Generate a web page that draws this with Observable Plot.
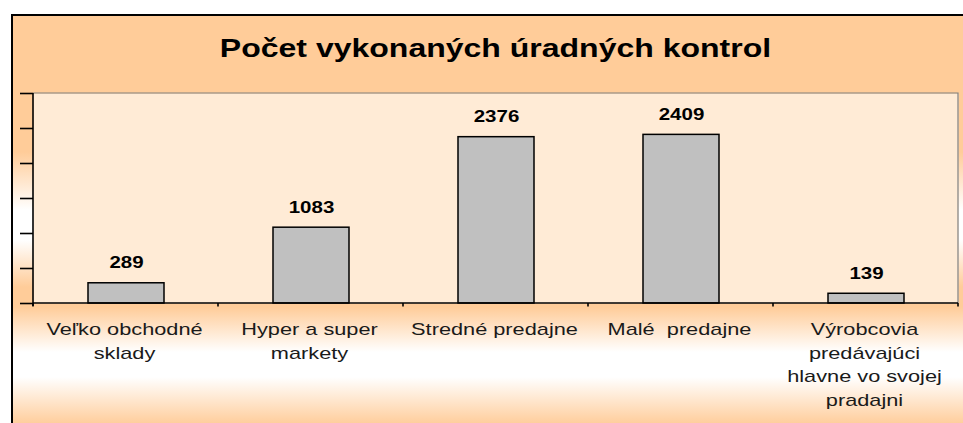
<!DOCTYPE html>
<html>
<head>
<meta charset="utf-8">
<script src="https://cdn.jsdelivr.net/npm/d3@7"></script>
<script src="https://cdn.jsdelivr.net/npm/@observablehq/plot@0.6"></script>
<style>
html, body { margin: 0; padding: 0; width: 963px; height: 423px; overflow: hidden; background: #fff; }
#bg {
  position: absolute; left: 11px; top: 14px; width: 960px; height: 420px;
  border-left: 2px solid #000; border-top: 2px solid #000;
  background: linear-gradient(to bottom,
    #FFCC99 0px, #FFCC99 136px, #FFFFFF 194px, #FFFFFF 224px,
    #FFCC99 271px, #FFCC99 291px, #FFFFFF 336px, #FFFFFF 361px, #FFCC99 409px);
}
#title {
  position: absolute; left: 33px; width: 925px; top: 34px; line-height: 25px;
  text-align: center; font: bold 25px "Liberation Sans", Arial, sans-serif; color: #000;
  transform: scaleX(1.28); white-space: nowrap;
}
#chart { position: absolute; left: 0; top: 0; }
</style>
</head>
<body>
<div id="bg"></div>
<div id="title">Počet vykonaných úradných kontrol</div>
<div id="chart"></div>
<script>
const categories = [
  "Veľko obchodné sklady",
  "Hyper a super markety",
  "Stredné predajne",
  "Malé  predajne",
  "Výrobcovia predávajúci hlavne vo svojej pradajni"
];
const values = [289, 1083, 2376, 2409, 139];
const tickLabels = [
  "Veľko obchodné\nsklady",
  "Hyper a super\nmarkety",
  "Stredné predajne",
  "Malé  predajne",
  "Výrobcovia\npredávajúci\nhlavne vo svojej\npradajni"
];
const yTicks = [0, 500, 1000, 1500, 2000, 2500, 3000];

const data = categories.map((c, i) => ({category: c, value: values[i]}));

const axisLines = (index, scales, values, dim) => {
  const {width, height, marginLeft: ml, marginRight: mr, marginTop: mt, marginBottom: mb} = dim;
  const g = d3.create("svg:g");
  const x0 = ml, x1 = width - mr, y0 = mt, y1 = height - mb;
  g.append("path").attr("d", `M${x0},${y0}H${x1}V${y1}`).attr("fill", "none").attr("stroke", "#808080").attr("stroke-width", 1.2);
  g.append("line").attr("x1", x0).attr("x2", x0).attr("y1", y0).attr("y2", y1 + 3).attr("stroke", "#000").attr("stroke-width", 1.6);
  g.append("line").attr("x1", x0).attr("x2", x1).attr("y1", y1).attr("y2", y1).attr("stroke", "#000").attr("stroke-width", 1.6);
  const xb = d3.scaleBand(categories, [x0, x1]);
  const bounds = categories.map(c => xb(c)).concat([x1]);
  for (const b of bounds) {
    g.append("line").attr("x1", b).attr("x2", b).attr("y1", y1).attr("y2", y1 + 3.5).attr("stroke", "#000").attr("stroke-width", 1.6);
  }
  return g.node();
};

const plot = Plot.plot({
  width: 963,
  height: 423,
  marginLeft: 33,
  marginRight: 5,
  marginTop: 93,
  marginBottom: 120,
  style: {background: "transparent", fontFamily: "'Liberation Sans', Arial, sans-serif", overflow: "visible"},
  x: {domain: categories, paddingInner: 0.59, paddingOuter: 0.295, label: null},
  y: {domain: [0, 3000], label: null},
  marks: [
    Plot.frame({fill: "url(#dots)", stroke: null}),
    Plot.barY(data, {x: "category", y: "value", fill: "#C0C0C0", stroke: "#000", strokeWidth: 1.5}),
    Plot.text(data, {x: "category", y: "value", text: d => String(d.value), dy: -20,
      fontWeight: "bold", fontSize: 16, fill: "#000"}),
    axisLines,
    Plot.axisY({ticks: yTicks, tickSize: 13, tickFormat: () => "", label: null, stroke: "#000", strokeWidth: 1.6}),
    Plot.axisX({tickSize: 0, tickPadding: 15, fontSize: 16, lineHeight: 1.47, fill: "#1a1a1a", label: null,
      dx: -2, tickFormat: d => tickLabels[categories.indexOf(d)]})
  ]
});

const svg = d3.select(plot);
const defs = svg.insert("defs", ":first-child");
const pat = defs.append("pattern").attr("id", "dots").attr("patternUnits", "userSpaceOnUse")
  .attr("width", 2).attr("height", 2);
pat.append("rect").attr("width", 2).attr("height", 2).attr("fill", "#FFF4E8");
pat.append("rect").attr("width", 1).attr("height", 1).attr("fill", "#FFE2C4");
pat.append("rect").attr("x", 1).attr("y", 1).attr("width", 1).attr("height", 1).attr("fill", "#FFE2C4");

plot.querySelectorAll("text").forEach(t => {
  t.style.whiteSpace = "pre";
  const isAxis = !!t.closest('[aria-label^="x-axis"]');
  const s = isAxis ? 1.36 : 1.28;
  const tr = t.getAttribute("transform");
  if (tr) t.setAttribute("transform", tr + ` scale(${s},1)`);
  else {
    const x = +t.getAttribute("x") || 0, y = +t.getAttribute("y") || 0;
    t.setAttribute("transform", `translate(${x},${y}) scale(${s},1) translate(${-x},${-y})`);
  }
});

document.getElementById("chart").appendChild(plot);
</script>
</body>
</html>
